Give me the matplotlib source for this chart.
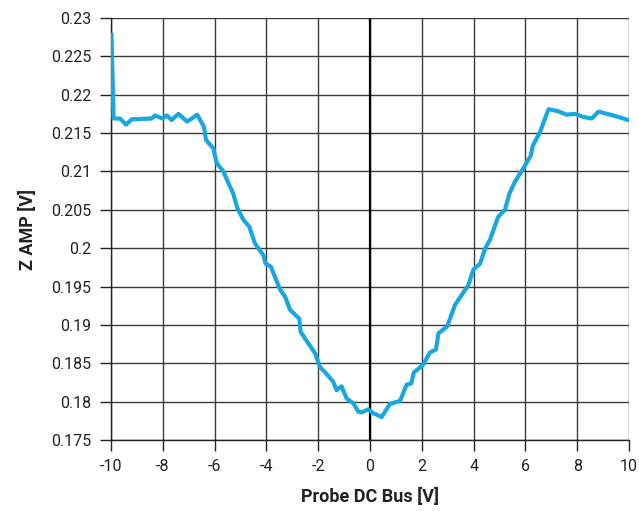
import matplotlib
matplotlib.use("Agg")
import matplotlib.pyplot as plt

# Probe DC bus sweep vs Z amplitude
bias_v = [-9.98, -9.9, -9.65, -9.42, -9.2, -8.43, -8.3, -8.02, -7.85, -7.66,
          -7.4, -7.06, -6.67, -6.41, -6.33, -6.05, -5.92, -5.66, -5.47, -5.28,
          -5.12, -4.89, -4.66, -4.44, -4.12, -4.03, -3.83, -3.47, -3.28, -3.09,
          -2.73, -2.68, -2.38, -2.12, -1.93, -1.67, -1.42, -1.29, -1.10, -0.90,
          -0.65, -0.45, -0.32, -0.07, 0.12, 0.45, 0.77, 1.16, 1.41, 1.60,
          1.69, 2.05, 2.31, 2.55, 2.64, 2.98, 3.28, 3.80, 3.99, 4.25,
          4.44, 4.63, 4.95, 5.21, 5.38, 5.60, 5.92, 6.21, 6.29, 6.57,
          6.89, 7.21, 7.60, 7.92, 8.24, 8.56, 8.82, 9.27, 9.59, 9.97]
z_amp = [0.2278, 0.2169, 0.2169, 0.2161, 0.2168, 0.2169, 0.2173, 0.2169, 0.2173, 0.2167,
         0.2175, 0.2165, 0.2174, 0.2158, 0.2141, 0.2130, 0.2111, 0.2100, 0.2085, 0.2071,
         0.2052, 0.2037, 0.2028, 0.2006, 0.1991, 0.1980, 0.1976, 0.1946, 0.1937, 0.1920,
         0.1908, 0.1891, 0.1876, 0.1863, 0.1845, 0.1836, 0.1826, 0.1815, 0.1820, 0.1804,
         0.1798, 0.1787, 0.1786, 0.1790, 0.1785, 0.1780, 0.1797, 0.1801, 0.1822, 0.1824,
         0.1838, 0.1848, 0.1864, 0.1868, 0.1889, 0.1898, 0.1926, 0.1952, 0.1972, 0.1980,
         0.1999, 0.2011, 0.2041, 0.2050, 0.2071, 0.2087, 0.2104, 0.2121, 0.2134, 0.2152,
         0.2181, 0.2179, 0.2174, 0.2175, 0.2171, 0.2169, 0.2178, 0.2174, 0.2171, 0.2167]

x_ticks = [-10, -8, -6, -4, -2, 0, 2, 4, 6, 8, 10]
y_ticks = [0.175, 0.18, 0.185, 0.19, 0.195, 0.2, 0.205, 0.21, 0.215, 0.22, 0.225, 0.23]
y_labels = ["0.175", "0.18", "0.185", "0.19", "0.195", "0.2", "0.205", "0.21",
            "0.215", "0.22", "0.225", "0.23"]

plt.rcParams["font.family"] = ["Roboto", "DejaVu Sans"]

fig = plt.figure(figsize=(6.39, 5.11), dpi=100)
ax = fig.add_axes([0.1737, 0.1389, 0.8107, 0.8259])

ax.set_xlim(-10, 10)
ax.set_ylim(0.175, 0.23)
ax.set_xticks(x_ticks)
ax.set_xticklabels([str(t) for t in x_ticks])
ax.set_yticks(y_ticks)
ax.set_yticklabels(y_labels)

ax.grid(True, color="#3a3a3a", lw=1.0)
ax.set_axisbelow(True)
ax.axvline(0, color="black", lw=1.6, zorder=1.5)

ax.plot(bias_v, z_amp, color="#18a7de", lw=3.0, zorder=3, solid_joinstyle="round")

for s in ["top", "right"]:
    ax.spines[s].set_visible(False)
for s in ["left", "bottom"]:
    ax.spines[s].set_color("#222222")
    ax.spines[s].set_linewidth(1.0)

ax.tick_params(axis="both", direction="out", length=8, width=1, color="#222222",
               labelsize=11.5, labelcolor="#222222", pad=6)

ax.set_xlabel("Probe DC Bus [V]", fontsize=13, fontweight="bold", color="#222222", labelpad=10)
ax.set_ylabel("Z AMP [V]", fontsize=13, fontweight="bold", color="#222222", labelpad=10)

fig.savefig("out.png", dpi=100)
